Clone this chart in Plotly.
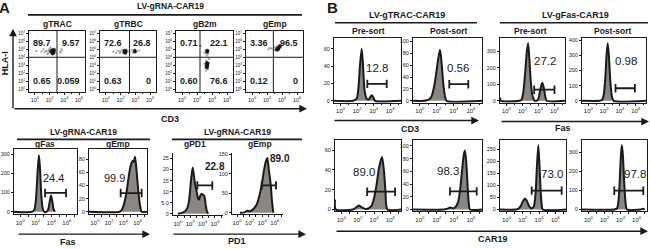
import plotly.graph_objects as go

W, H = 650, 249
FN = "Liberation Sans Narrow, Arial Narrow, Liberation Sans, Arial, sans-serif"
INK = "#1a1a1a"
FILL = "#8a8682"

# ======================= DATA =======================
# ---- Panel A, top: CD3 (x) vs HLA-I (y) dot plots, log10 units ----
dot_titles = ["gTRAC", "gTRBC", "gB2m", "gEmp"]
dot_quadrants = [["89.7", "9.57", "0.65", "0.059"],
                 ["72.6", "26.8", "0.63", "0"],
                 ["0.71", "22.1", "0.60", "76.6"],
                 ["3.36", "96.5", "0.12", "0"]]
dot_gate_x = [3.0, 3.2, 2.4, 2.85]
dot_gate_y = [4.0, 4.0, 4.0, 4.0]

gTRAC_core_x = [2.3, 2.45, 2.55, 2.4, 2.35, 2.5, 2.6, 2.45, 2.3, 2.55, 2.2, 2.4]
gTRAC_core_y = [4.7, 4.75, 4.65, 4.9, 4.55, 4.55, 4.8, 4.6, 4.85, 4.95, 4.75, 4.45]
gTRAC_halo_x = [0.2, 0.9, 1.3, 1.6, 1.8, 1.9, 2.0, 1.7, 2.8, 3.4, 3.6, 1.5, 2.9, 3.7, 1.2, 2.1, 3.5, 2.7, 2.0, 1.95]
gTRAC_halo_y = [4.8, 4.7, 4.6, 4.8, 4.5, 4.9, 5.1, 4.4, 4.9, 4.7, 5.0, 4.75, 4.5, 4.85, 5.0, 5.2, 4.6, 5.05, 4.6, 4.75]

gTRBC_core_x = [2.5, 2.6, 2.65, 2.55, 2.7, 2.6, 3.9, 3.95]
gTRBC_core_y = [4.7, 4.75, 4.6, 4.85, 4.7, 4.55, 4.8, 4.7]
gTRBC_halo_x = [1.0, 1.4, 1.7, 2.0, 2.2, 2.3, 2.9, 3.2, 3.5, 3.7, 4.2, 4.5, 1.9, 2.8, 4.0, 3.8]
gTRBC_halo_y = [4.7, 4.6, 4.8, 4.7, 4.9, 4.5, 4.8, 4.7, 4.9, 4.6, 4.75, 4.85, 4.55, 5.0, 4.95, 4.6]

gB2m_core_x = [3.35, 3.4, 3.32, 3.3, 3.35, 3.28, 3.4, 3.3, 3.38, 3.33, 3.36]
gB2m_core_y = [4.75, 4.85, 4.65, 3.3, 3.15, 3.0, 3.05, 2.85, 3.25, 2.7, 2.9]
gB2m_halo_x = [3.0, 3.1, 3.5, 3.6, 3.2, 3.45, 3.15, 3.55, 2.5, 3.3, 3.0, 3.6, 3.25, 3.45]
gB2m_halo_y = [3.2, 2.7, 2.9, 3.3, 2.3, 2.5, 4.9, 4.6, 5.4, 4.2, 4.5, 3.8, 3.6, 4.4]

gEmp_core_x = [3.3, 3.4, 3.5, 3.55, 3.6, 3.7, 3.45, 3.65, 3.5]
gEmp_core_y = [4.95, 5.05, 5.15, 5.2, 5.3, 5.4, 5.0, 5.25, 5.05]
gEmp_halo_x = [2.2, 2.6, 2.9, 3.1, 3.2, 3.8, 3.9, 3.4, 2.4, 3.0, 3.75, 3.25]
gEmp_halo_y = [5.0, 5.1, 4.95, 4.85, 5.1, 5.5, 5.35, 4.8, 5.15, 5.25, 5.55, 5.3]

# ---- Histograms (log10 fluorescence, cell count) ----
A_gFas_x = [-0.8, 1.6, 1.85, 2.05, 2.25, 2.41, 2.55, 2.72, 2.9, 3.06, 3.4, 3.6, 3.78, 3.96, 4.12, 4.3, 4.47]
A_gFas_y = [0, 0, 15, 80, 220, 295, 220, 80, 15, 0, 0, 12, 50, 85, 55, 12, 0]
A_gEmp_x = [-0.8, 3.5, 3.8, 4.1, 4.46, 4.7, 4.93, 5.15, 5.3, 5.45, 5.62, 5.78, 5.94, 6.15, 6.32, 6.56, 7.3]
A_gEmp_y = [0, 0, 3, 12, 31, 50, 66, 75, 78, 76, 84, 70, 50, 25, 10, 0, 0]
A_gPD1_x = [0.0, 0.8, 1.42, 1.75, 1.95, 2.15, 2.39, 2.6, 2.8, 3.04, 3.25, 3.41, 3.6, 3.85, 4.05, 4.27, 4.5, 4.7, 4.92]
A_gPD1_y = [0, 0.5, 2, 5, 10, 16, 20.9, 17, 13, 10, 7, 6.4, 8, 9, 8.5, 8, 4, 1, 0]
A_gEmp2_x = [0.47, 1.2, 1.63, 2.0, 2.5, 3.12, 3.5, 3.92, 4.3, 4.55, 4.81, 5.05, 5.35, 5.55, 5.76]
A_gEmp2_y = [0, 1, 5, 4, 8, 21, 40, 72, 110, 130, 140, 110, 72, 30, 0]

B_CD3_pre_x = [-0.8, 1.5, 1.94, 2.15, 2.35, 2.55, 2.72, 2.9, 3.15, 3.4, 3.6, 3.76, 3.95, 4.16, 7.3]
B_CD3_pre_y = [0, 0, 2.5, 15, 42, 60, 39, 12, 2.5, 1.5, 4.5, 6.5, 4, 0, 0]
B_CD3_post_x = [-0.8, 0.5, 0.81, 1.15, 1.39, 1.65, 1.9, 2.15, 2.37, 2.55, 2.76, 2.95, 3.16, 7.3]
B_CD3_post_y = [0, 0, 1, 3, 8, 22, 44, 70, 86, 65, 28, 8, 0, 0]
B_Fas_pre_x = [-0.8, -0.7, 1.6, 1.86, 2.1, 2.35, 2.55, 2.7, 2.85, 3.05, 3.25, 3.54, 3.7, 3.88, 4.05, 4.25, 4.47, 4.65, 4.85, 5.02, 7.3]
B_Fas_pre_y = [20, 0, 0, 5, 50, 180, 300, 348, 260, 110, 30, 0, 0, 3, 25, 75, 109, 80, 25, 0, 0]
B_Fas_post_x = [-0.8, 1.4, 1.73, 1.95, 2.15, 2.3, 2.45, 2.6, 2.8, 3.0, 3.22, 7.3]
B_Fas_post_y = [0, 0, 5, 40, 150, 300, 381, 300, 120, 25, 0, 0]

B_CAR_TRACpre_x = [-0.8, -0.7, 1.4, 1.7, 2.14, 2.5, 2.9, 3.3, 3.7, 3.95, 4.3, 4.6, 4.97, 5.2, 5.4, 5.64, 7.3]
B_CAR_TRACpre_y = [10, 0, 0, 1.5, 4, 2, 0.5, 1, 4, 10, 25, 42, 53, 40, 18, 0, 0]
B_CAR_TRACpost_x = [-0.8, 2.8, 3.2, 3.54, 3.9, 4.2, 4.5, 4.72, 4.95, 5.15, 5.3, 5.45, 5.62, 5.75, 5.89, 7.3]
B_CAR_TRACpost_y = [0, 0, 1, 3, 2, 4, 12, 30, 60, 85, 93, 75, 35, 10, 0, 0]
B_CAR_Faspre_x = [-0.8, 1.2, 1.45, 1.75, 2.0, 2.27, 2.5, 2.75, 2.97, 3.15, 3.37, 3.55, 3.72, 3.9, 4.05, 4.2, 4.32, 4.44, 7.3]
B_CAR_Faspre_y = [0, 0, 3, 15, 33, 45, 35, 15, 6, 5, 15, 60, 170, 266, 180, 70, 20, 0, 0]
B_CAR_Faspost_x = [-0.8, 3.2, 3.56, 3.78, 3.95, 4.08, 4.18, 4.3, 4.45, 4.62, 4.81, 6.5, 6.8, 7.0]
B_CAR_Faspost_y = [0, 0, 5, 60, 200, 300, 335, 280, 150, 40, 0, 0, 4, 0]

# gates: [start, end, level]; gate labels: [x, y, text]
hist_gates = {
    "A_gFas": [3.19, 5.89, 98], "A_gEmp": [3.62, 6.56, 28.5],
    "A_gPD1": [3.14, 5.57, 12.8], "A_gEmp2": [3.92, 6.19, 70],
    "B_CD3_pre": [3.23, 5.57, 19.5], "B_CD3_post": [3.46, 5.69, 28],
    "B_Fas_pre": [3.46, 5.99, 67], "B_Fas_post": [3.44, 5.89, 83],
    "B_CAR_TRACpre": [3.15, 6.57, 18], "B_CAR_TRACpost": [3.54, 6.68, 28.5],
    "B_CAR_Faspre": [3.09, 6.77, 78], "B_CAR_Faspost": [3.22, 6.84, 98],
}
hist_labels = {
    "A_gFas": [4.25, 175, "24.4"], "A_gEmp": [2.83, 51, "99.9"],
    "A_gPD1": [6.0, 21.2, "22.8"], "A_gEmp2": [6.82, 140, "89.0"],
    "B_CD3_pre": [4.36, 38, "12.8"], "B_CD3_post": [4.52, 55, "0.56"],
    "B_Fas_pre": [4.81, 239, "27.2"], "B_Fas_post": [4.73, 261, "0.98"],
    "B_CAR_TRACpre": [2.74, 38, "89.0"], "B_CAR_TRACpost": [3.34, 60, "98.3"],
    "B_CAR_Faspre": [5.54, 146, "73.0"], "B_CAR_Faspost": [5.8, 184, "97.8"],
}
hist_yticks = {
    "A_gFas": [0, 100, 200, 300], "A_gEmp": [0, 20, 40, 60, 80],
    "A_gPD1": [0, 5, 10, 15, 20, 25], "A_gEmp2": [0, 50, 100, 150],
    "B_CD3_pre": [0, 20, 40, 60], "B_CD3_post": [0, 20, 40, 60, 80, 100],
    "B_Fas_pre": [0, 100, 200, 300], "B_Fas_post": [0, 100, 200, 300, 400],
    "B_CAR_TRACpre": [0, 20, 40, 60], "B_CAR_TRACpost": [0, 20, 40, 60, 80, 100],
    "B_CAR_Faspre": [0, 50, 100, 150, 200, 250], "B_CAR_Faspost": [0, 100, 200, 300],
}
x_decades = [0, 2, 4, 6]
x_minor = [1, 3, 5, 7]

# ======================= FIGURE =======================
def px(x):
    return x / W


def py(y):
    return 1 - y / H


fig = go.Figure()
layout = dict(width=W, height=H, margin=dict(l=0, r=0, t=0, b=0), autosize=False,
              paper_bgcolor="white", plot_bgcolor="white", showlegend=False,
              font=dict(family=FN, color=INK))
annotations, shapes = [], []
count = [0]


def sup_labels(vals):
    return ["10<sup>%d</sup>" % v for v in vals]


def new_axes(box, xr, yr, ytv, ytt, boxed=True, yfont=5.5, xfont=6):
    count[0] += 1
    n = count[0]
    s = "" if n == 1 else str(n)
    l, t, r, b = box
    common = dict(showline=True, mirror=boxed, linecolor=INK, linewidth=1,
                  ticks="outside", ticklen=2, tickwidth=0.8, tickcolor=INK,
                  showgrid=False, zeroline=False, fixedrange=True)
    layout["xaxis" + s] = dict(domain=[px(l), px(r)], range=xr, anchor="y" + s,
                               tickmode="array", tickvals=x_decades,
                               ticktext=sup_labels(x_decades),
                               tickfont=dict(size=xfont, family=FN, color=INK),
                               minor=dict(ticks="outside", ticklen=1.5, tickwidth=0.6,
                                          tickcolor=INK, tickmode="array", tickvals=x_minor),
                               **common)
    layout["yaxis" + s] = dict(domain=[py(b), py(t)], range=yr, anchor="x" + s,
                               tickmode="array", tickvals=ytv, ticktext=ytt,
                               tickfont=dict(size=yfont, family=FN, color=INK), **common)
    return "x" + s, "y" + s


def text(x, y, t, size, bold=True, angle=0, xanchor="center"):
    annotations.append(dict(x=px(x), y=py(y), xref="paper", yref="paper", text=("<b>%s</b>" % t) if bold else t,
                            showarrow=False, font=dict(size=size, family=FN, color=INK),
                            xanchor=xanchor, yanchor="middle", textangle=angle))


def hline(x0, x1, y, w=1.6):
    shapes.append(dict(type="line", xref="paper", yref="paper", x0=px(x0), x1=px(x1),
                       y0=py(y), y1=py(y), line=dict(color=INK, width=w)))


def arrow(x0, y0, x1, y1, w=1.4):
    annotations.append(dict(x=px(x1), y=py(y1), xref="paper", yref="paper", ax=x0 - x1, ay=y0 - y1,
                            axref="pixel", ayref="pixel", text="", showarrow=True, arrowhead=2,
                            arrowsize=1.1, arrowwidth=w, arrowcolor=INK))


# ---------------- Panel A: dot plots ----------------
dot_boxes = [(29, 29, 85, 91), (100, 29, 156, 91), (176, 29, 233, 91), (246, 29, 303, 91)]
dot_data = [(gTRAC_core_x, gTRAC_core_y, gTRAC_halo_x, gTRAC_halo_y),
            (gTRBC_core_x, gTRBC_core_y, gTRBC_halo_x, gTRBC_halo_y),
            (gB2m_core_x, gB2m_core_y, gB2m_halo_x, gB2m_halo_y),
            (gEmp_core_x, gEmp_core_y, gEmp_halo_x, gEmp_halo_y)]
yk = list(range(8))
for i, box in enumerate(dot_boxes):
    xa, ya = new_axes(box, [-0.8, 6.8], [-0.33, 7.33], yk, sup_labels(yk), yfont=4.5, xfont=5.5)
    cx, cy, hx, hy = dot_data[i]
    fig.add_trace(go.Scatter(x=hx, y=hy, mode="markers", xaxis=xa, yaxis=ya,
                             marker=dict(size=2.2, color="#a0a0a0"), hoverinfo="skip"))
    fig.add_trace(go.Scatter(x=cx, y=cy, mode="markers", xaxis=xa, yaxis=ya,
                             marker=dict(size=3.6, color="#151515", opacity=0.85), hoverinfo="skip"))
    shapes.append(dict(type="line", xref=xa, yref=ya, x0=dot_gate_x[i], x1=dot_gate_x[i],
                       y0=-0.33, y1=7.33, line=dict(color=INK, width=1)))
    shapes.append(dict(type="line", xref=xa, yref=ya, x0=-0.8, x1=6.8,
                       y0=dot_gate_y[i], y1=dot_gate_y[i], line=dict(color=INK, width=1)))
    l, t, r, b = box
    q = dot_quadrants[i]
    text(l + 2, 41, q[0], 9, xanchor="left")
    text(r - 3, 41, q[1], 9, xanchor="right")
    text(l + 2, 80, q[2], 9, xanchor="left")
    text(r - 3, 80, q[3], 9, xanchor="right")
    text((l + r) / 2, 22, dot_titles[i], 8.5)

# ---------------- Histograms ----------------
hist_panels = [
    ("A_gFas", (14, 149, 77, 215), [-14, 326], A_gFas_x, A_gFas_y, True, False, 11),
    ("A_gEmp", (89, 149, 147, 215), [-4.1, 95.5], A_gEmp_x, A_gEmp_y, True, False, 11),
    ("A_gPD1", (173, 153, 223, 216), [-0.76, 27.4], A_gPD1_x, A_gPD1_y, False, True, 10),
    ("A_gEmp2", (232, 153, 283, 215), [-4.3, 152.6], A_gEmp2_x, A_gEmp2_y, False, True, 10),
    ("B_CD3_pre", (334, 36, 401, 102), [-2.3, 73], B_CD3_pre_x, B_CD3_pre_y, True, False, 11.5),
    ("B_CD3_post", (413, 36, 482, 102), [-3.3, 106.7], B_CD3_post_x, B_CD3_post_y, True, False, 11.5),
    ("B_Fas_pre", (500, 36, 565, 102), [-12, 382], B_Fas_pre_x, B_Fas_pre_y, True, False, 11.5),
    ("B_Fas_post", (582, 36, 646, 102), [-13, 418], B_Fas_post_x, B_Fas_post_y, True, False, 11.5),
    ("B_CAR_TRACpre", (335, 140, 401, 212), [-2, 70], B_CAR_TRACpre_x, B_CAR_TRACpre_y, True, False, 11.5),
    ("B_CAR_TRACpost", (413, 140, 482, 212), [-3.1, 108.9], B_CAR_TRACpost_x, B_CAR_TRACpost_y, True, False, 11.5),
    ("B_CAR_Faspre", (500, 140, 566, 212), [-8.2, 287], B_CAR_Faspre_x, B_CAR_Faspre_y, True, False, 11.5),
    ("B_CAR_Faspost", (582, 140, 647, 212), [-10.3, 361], B_CAR_Faspost_x, B_CAR_Faspost_y, True, False, 11.5),
]
for key, box, yr, hx, hy, boxed, boldnum, numsize in hist_panels:
    ytv = hist_yticks[key]
    ytt = ["5.0" if v == 5 else str(v) for v in ytv]
    xa, ya = new_axes(box, [-0.8, 7.3], yr, ytv, ytt, boxed=boxed)
    fig.add_trace(go.Scatter(x=hx, y=hy, mode="lines", xaxis=xa, yaxis=ya, fill="tozeroy",
                             fillcolor=FILL, line=dict(color=INK, width=2, shape="spline", smoothing=0.7),
                             hoverinfo="skip"))
    g = hist_gates[key]
    fig.add_trace(go.Scatter(x=[g[0], g[1]], y=[g[2], g[2]], mode="lines+markers", xaxis=xa, yaxis=ya,
                             line=dict(color=INK, width=1.8),
                             marker=dict(symbol="line-ns", size=6, line=dict(width=1.8, color=INK)),
                             hoverinfo="skip"))
    lb = hist_labels[key]
    t = ("<b>%s</b>" % lb[2]) if boldnum else lb[2]
    annotations.append(dict(x=lb[0], y=lb[1], xref=xa, yref=ya, text=t, showarrow=False,
                            font=dict(size=numsize, family=FN, color=INK)))

# ---------------- Panel labels, titles, arrows ----------------
text(4, 6, "A", 15)
text(332, 6, "B", 15)

text(170, 4, "LV-gRNA-CAR19", 8.5)
hline(28, 302, 13)
text(5, 62, "HLA-I", 9, angle=-90)
arrow(13, 108, 13, 27)
arrow(13, 108, 307, 108)
text(170, 118, "CD3", 9)

text(83, 132, "LV-gRNA-CAR19", 8.5)
hline(17, 150, 139)
text(237, 132, "LV-gRNA-CAR19", 8.5)
hline(172, 302, 139)
text(45, 144, "gFas", 8.5)
text(118, 144, "gEmp", 8.5)
text(195, 144, "gPD1", 8.5)
text(260, 144, "gEmp", 8.5)
arrow(17, 235, 150, 235)
arrow(172, 235, 306, 235)
text(68, 243, "Fas", 9)
text(237, 242, "PD1", 9)

text(407, 13, "LV-gTRAC-CAR19", 9)
hline(335, 477, 21)
text(575, 13, "LV-gFas-CAR19", 9)
hline(500, 648, 21)
text(368, 29, "Pre-sort", 8.5)
text(448, 29, "Post-sort", 8.5)
text(530, 29, "Pre-sort", 8.5)
text(612, 29, "Post-sort", 8.5)
arrow(333, 120, 479, 120)
text(410, 129, "CD3", 9)
arrow(500, 121, 649, 121)
text(563, 128, "Fas", 9)
arrow(335, 232, 648, 232)
text(493, 240, "CAR19", 9)

layout["annotations"] = annotations
layout["shapes"] = shapes
fig.update_layout(**layout)
fig.write_html("out.html", config={"displayModeBar": False},
               post_script="document.body.style.margin='0';document.body.style.overflow='hidden';")
